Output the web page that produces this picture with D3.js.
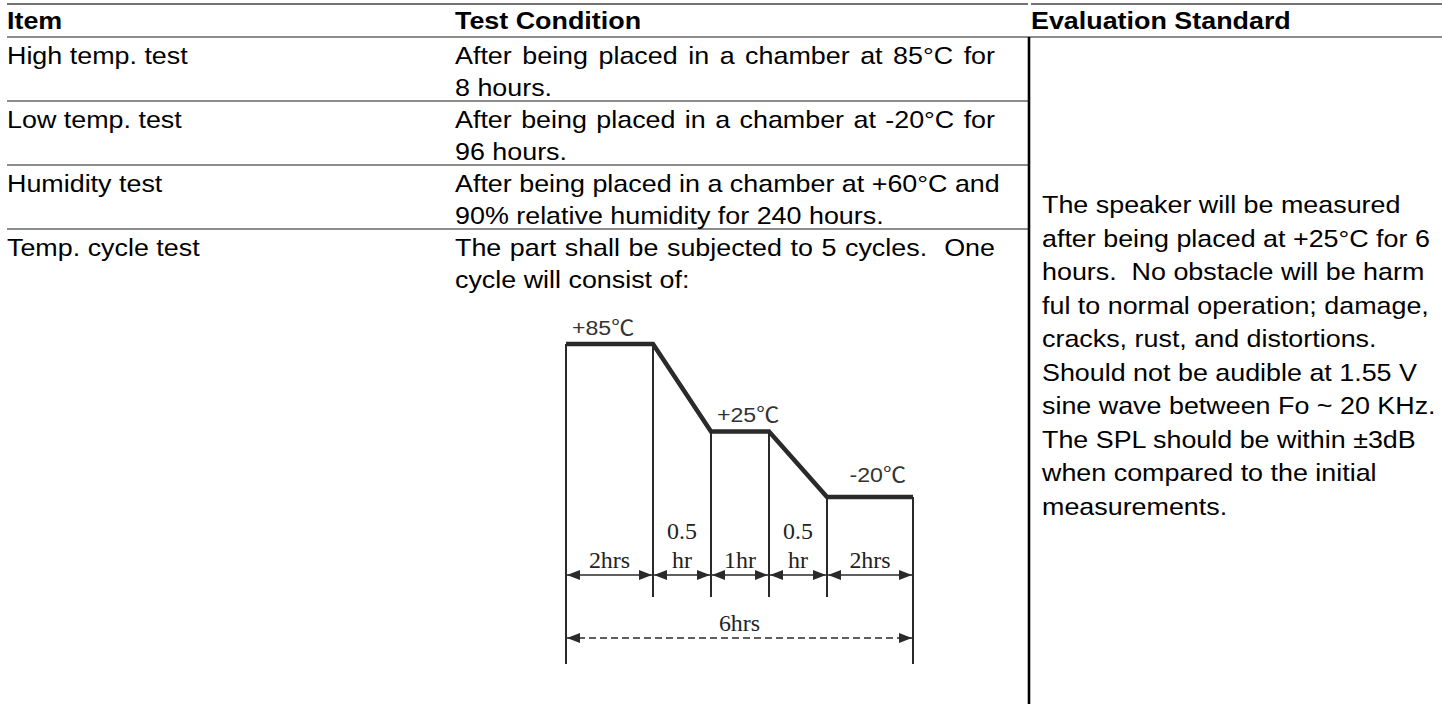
<!DOCTYPE html>
<html>
<head>
<meta charset="utf-8">
<script src="https://cdn.jsdelivr.net/npm/d3@7"></script>
<style>
  html, body { margin: 0; padding: 0; background: #fff; }
  svg { display: block; }
  text { font-family: "Liberation Sans", Arial, Helvetica, sans-serif; fill: #000; }
  .serif { font-family: "Liberation Serif", "Times New Roman", serif; }
</style>
</head>
<body>
<svg id="chart" width="1442" height="704"></svg>
<script>
const headers = ['Item', 'Test Condition', 'Evaluation Standard']
const items = ['High temp. test', 'Low temp. test', 'Humidity test', 'Temp. cycle test']
const conditions = [
  ['After being placed in a chamber at 85°C for', '8 hours.'],
  ['After being placed in a chamber at -20°C for', '96 hours.'],
  ['After being placed in a chamber at +60°C and', '90% relative humidity for 240 hours.'],
  ['The part shall be subjected to 5 cycles.  One', 'cycle will consist of:']
]
const standardLines = [
  'The speaker will be measured',
  'after being placed at +25°C for 6',
  'hours.  No obstacle will be harm',
  'ful to normal operation; damage,',
  'cracks, rust, and distortions.',
  'Should not be audible at 1.55 V',
  'sine wave between Fo ~ 20 KHz.',
  'The SPL should be within ±3dB',
  'when compared to the initial',
  'measurements.'
]

// temperature cycle: time (hrs) and temperature (°C) at each corner
const cycleTimes = [0, 2, 2.5, 3.5, 4, 6]
const cycleTemps = [85, 85, 25, 25, -20, -20]
const tempLabels = ['+85℃', '+25℃', '-20℃']
const spanLabels = [['2hrs'], ['0.5', 'hr'], ['1hr'], ['0.5', 'hr'], ['2hrs']]
const totalLabel = '6hrs'

const W = 1442, H = 704
const svg = d3.select('#chart')
const sx = 1.12          // text in the source is drawn a little wide
const fs = 24
const left = 7
const colX = [left, 455, 1029]
const textRight = 995
const headTop = 4, headBottom = 37, rowH = 64

const rowY = d3.scaleLinear().domain([0, items.length]).range([headBottom, headBottom + rowH * items.length])

function addText(g, str, x, y, opts = {}) {
  const t = g.append('text')
    .attr('transform', `translate(${x},${y}) scale(${opts.sx || sx},1)`)
    .attr('xml:space', 'preserve')
    .style('white-space', 'pre')
    .style('font-size', (opts.size || fs) + 'px')
    .attr('text-anchor', opts.anchor || 'start')
    .text(str)
  if (opts.bold) t.style('font-weight', 'bold')
  if (opts.cls) t.attr('class', opts.cls)
  if (opts.fill) t.style('fill', opts.fill)
  return t
}

function justify(t, width) {
  const str = t.text()
  const n = (str.match(/ /g) || []).length
  if (!n) return
  const w = t.node().getComputedTextLength()
  const extra = (width / sx - w) / n
  if (extra > 0) t.style('word-spacing', extra + 'px')
}

// ---- table rules
const rules = svg.append('g').attr('class', 'rules')
rules.append('line').attr('x1', left).attr('x2', colX[2] - 1).attr('y1', headTop).attr('y2', headTop)
  .attr('stroke', '#444').attr('stroke-width', 1.6)
rules.append('line').attr('x1', colX[2] + 2).attr('x2', W).attr('y1', headTop).attr('y2', headTop)
  .attr('stroke', '#444').attr('stroke-width', 1.6)
rules.append('line').attr('x1', left).attr('x2', W).attr('y1', headBottom).attr('y2', headBottom)
  .attr('stroke', '#666').attr('stroke-width', 1.5)
rules.selectAll('line.row')
  .data(d3.range(1, items.length))
  .join('line')
  .attr('class', 'row')
  .attr('x1', left).attr('x2', colX[2])
  .attr('y1', (d) => rowY(d)).attr('y2', (d) => rowY(d))
  .attr('stroke', '#666').attr('stroke-width', 1.5)
rules.append('line').attr('x1', colX[2]).attr('x2', colX[2]).attr('y1', headBottom).attr('y2', H)
  .attr('stroke', '#000').attr('stroke-width', 2.6)

// ---- header
const head = svg.append('g').attr('class', 'header')
headers.forEach((h, i) => addText(head, h, i === 2 ? colX[2] + 2 : colX[i], 29, { bold: true }))

// ---- body rows
const body = svg.append('g').attr('class', 'body')
items.forEach((item, i) => {
  const top = rowY(i)
  addText(body, item, colX[0], top + 27)
  conditions[i].forEach((line, j) => {
    const t = addText(body, line, colX[1], top + 27 + j * 32)
    if (j < conditions[i].length - 1) justify(t, textRight - colX[1])
  })
})

// ---- evaluation standard (merged cell)
const std = svg.append('g').attr('class', 'standard')
standardLines.forEach((line, k) => addText(std, line, colX[2] + 13, 213 + k * 33.5))

// ---- temperature cycle diagram
const diag = svg.append('g').attr('class', 'cycle')
const x = d3.scaleLinear().domain(cycleTimes).range([566, 653, 711, 769, 827, 913])
const y = d3.scaleLinear().domain([-20, 85]).range([497, 344])
const ink = '#2a2a2a'

const defs = svg.append('defs')
defs.append('marker')
  .attr('id', 'head')
  .attr('viewBox', '0 0 13 10')
  .attr('refX', 13).attr('refY', 5)
  .attr('markerWidth', 13).attr('markerHeight', 10)
  .attr('markerUnits', 'userSpaceOnUse')
  .attr('orient', 'auto-start-reverse')
  .append('path').attr('d', 'M0,0L13,5L0,10Z').attr('fill', ink)

const armY = 575, innerEnd = 597, outerEnd = 664, totalY = 638

// verticals at each corner
diag.selectAll('line.v')
  .data(cycleTimes)
  .join('line')
  .attr('class', 'v')
  .attr('x1', (d) => x(d)).attr('x2', (d) => x(d))
  .attr('y1', (d, i) => y(cycleTemps[i]))
  .attr('y2', (d, i) => (i === 0 || i === cycleTimes.length - 1) ? outerEnd : innerEnd)
  .attr('stroke', ink).attr('stroke-width', 2)

// temperature profile
const profile = d3.line().x((d) => x(d[0])).y((d) => y(d[1]))
diag.append('path')
  .attr('d', profile(cycleTimes.map((t, i) => [t, cycleTemps[i]])))
  .attr('fill', 'none').attr('stroke', ink).attr('stroke-width', 4.5)
  .attr('stroke-linejoin', 'miter')

// plateau labels
tempLabels.forEach((lab, k) => {
  const a = x(cycleTimes[2 * k]), b = x(cycleTimes[2 * k + 1])
  const last = k === tempLabels.length - 1
  addText(diag, lab, last ? b - 7 : a + 6, y(cycleTemps[2 * k]) - (last ? 15 : 9),
    { size: 21, anchor: last ? 'end' : 'start', sx: 1.1, fill: '#333' })
    .style('font-family', '"Liberation Sans", "Noto Sans CJK SC", sans-serif')
})

// span arrows and labels
spanLabels.forEach((lines, i) => {
  const a = x(cycleTimes[i]), b = x(cycleTimes[i + 1])
  diag.append('line')
    .attr('x1', a + 1).attr('x2', b - 1).attr('y1', armY).attr('y2', armY)
    .attr('stroke', ink).attr('stroke-width', 1.6)
    .attr('marker-start', 'url(#head)').attr('marker-end', 'url(#head)')
  lines.forEach((l, j) => {
    addText(diag, l, (a + b) / 2, 568 - (lines.length - 1 - j) * 29,
      { size: 23, anchor: 'middle', sx: 1.04, cls: 'serif', fill: '#222' })
  })
})

// total duration
diag.append('line')
  .attr('x1', x(cycleTimes[0]) + 1).attr('x2', x(cycleTimes[cycleTimes.length - 1]) - 1)
  .attr('y1', totalY).attr('y2', totalY)
  .attr('stroke', ink).attr('stroke-width', 1.6).attr('stroke-dasharray', '7,4')
  .attr('marker-start', 'url(#head)').attr('marker-end', 'url(#head)')
addText(diag, totalLabel, (x(cycleTimes[0]) + x(cycleTimes[cycleTimes.length - 1])) / 2, totalY - 7,
  { size: 23, anchor: 'middle', sx: 1.04, cls: 'serif', fill: '#222' })
</script>
</body>
</html>
